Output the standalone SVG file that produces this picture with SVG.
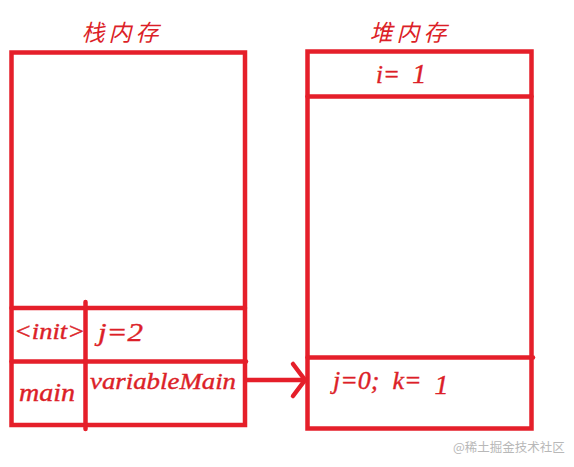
<svg xmlns="http://www.w3.org/2000/svg" width="574" height="467" viewBox="0 0 574 467">
<style>
.box{fill:none;stroke:#e51f2a;stroke-width:4.5}
.ln{stroke:#e51f2a;stroke-width:4.5;stroke-linecap:round;fill:none}
.t{font-family:'Liberation Serif','Times New Roman',serif;font-style:italic;fill:#dc1f28;stroke:#dc1f28;stroke-width:0.4}
.cjk{font-family:'Noto Sans CJK SC',sans-serif;font-style:italic;fill:#dc1f28;font-size:23px}
.wm{font-family:'Noto Sans CJK SC',sans-serif;fill:#b8b8b8;font-size:12.5px}
</style>
<rect width="574" height="467" fill="#ffffff"/>
<g id="stack">
<text class="cjk" x="122" y="41" text-anchor="middle" letter-spacing="4">栈内存</text>
<rect class="box" x="11.5" y="52.5" width="233.5" height="372.5"/>
</g>
<g id="init-frame">
<line class="ln" x1="11.5" y1="308" x2="245" y2="308"/>
<text class="t" x="14" y="339" font-size="23" textLength="71" lengthAdjust="spacingAndGlyphs">&lt;init&gt;</text>
<text class="t" x="98" y="341" font-size="26" textLength="45" lengthAdjust="spacingAndGlyphs">j=2</text>
</g>
<g id="main-frame">
<line class="ln" x1="11.5" y1="361.5" x2="246" y2="361.5"/>
<line class="ln" x1="85.5" y1="302" x2="85.5" y2="429"/>
<text class="t" x="19" y="401" font-size="25" textLength="56" lengthAdjust="spacingAndGlyphs">main</text>
<text class="t" x="90" y="389" font-size="24" textLength="146" lengthAdjust="spacingAndGlyphs">variableMain</text>
</g>
<g id="heap">
<text class="cjk" x="410" y="41" text-anchor="middle" letter-spacing="4">堆内存</text>
<rect class="box" x="307.5" y="51.5" width="224" height="377"/>
<line class="ln" x1="307.5" y1="96.5" x2="531.5" y2="96.5"/>
<text class="t" x="376" y="83" font-size="25" xml:space="preserve">i=  <tspan font-size="28">1</tspan></text>
</g>
<g id="heap-object">
<line class="ln" x1="307.5" y1="357.5" x2="533" y2="357.5"/>
<text class="t" x="333" y="389" font-size="26" xml:space="preserve">j=0;  k=  <tspan y="394" font-size="28">1</tspan></text>
</g>
<g id="connectors">
<line class="ln" x1="246" y1="380" x2="305" y2="380"/>
<polyline class="ln" points="293,364 305,380 293,396"/>
</g>
<text class="wm" x="453" y="452">@稀土掘金技术社区</text>
</svg>
